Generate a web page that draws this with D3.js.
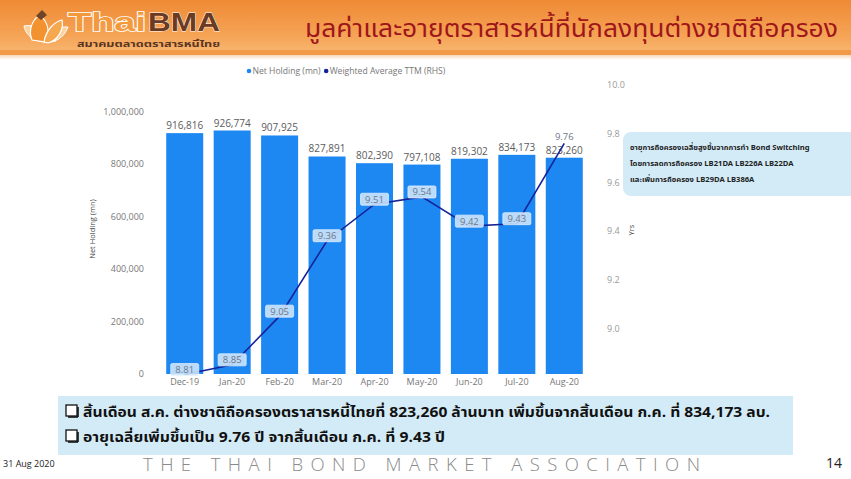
<!DOCTYPE html>
<html><head><meta charset="utf-8">
<script src="https://cdn.jsdelivr.net/npm/d3@7"></script>
<style>
html,body{margin:0;padding:0;background:#fff;overflow:hidden}
svg{display:block}
</style></head>
<body>
<svg id="c" width="851" height="479"></svg>
<script>
const categories = ["Dec-19","Jan-20","Feb-20","Mar-20","Apr-20","May-20","Jun-20","Jul-20","Aug-20"];
const netHolding = [916816, 926774, 907925, 827891, 802390, 797108, 819302, 834173, 823260];
const ttm = [8.81, 8.85, 9.05, 9.36, 9.51, 9.54, 9.42, 9.43, 9.76];
const leftTicks = [0, 200000, 400000, 600000, 800000, 1000000];
const rightTicks = [9.0, 9.2, 9.4, 9.6, 9.8, 10.0];
const legendItems = ["Net Holding (mn)", "Weighted Average TTM (RHS)"];
const titleText = "มูลค่าและอายุตราสารหนี้ที่นักลงทุนต่างชาติถือครอง";
const noteLines = ["อายุการถือครองเฉลี่ยสูงขึ้นจากการทำ Bond Switching",
                   "โดยการลดการถือครอง LB21DA LB226A LB22DA",
                   "และเพิ่มการถือครอง LB29DA LB386A"];
const summaryLines = ["สิ้นเดือน ส.ค. ต่างชาติถือครองตราสารหนี้ไทยที่ 823,260 ล้านบาท เพิ่มขึ้นจากสิ้นเดือน ก.ค. ที่ 834,173 ลบ.",
                      "อายุเฉลี่ยเพิ่มขึ้นเป็น 9.76 ปี จากสิ้นเดือน ก.ค. ที่ 9.43 ปี"];

const svg = d3.select("#c");
const defs = svg.append("defs");
const FONT = "'Segoe UI','Open Sans','Noto Sans',sans-serif";
const THAI = "'Noto Sans Thai','Leelawadee UI','Tahoma','Noto Sans','DejaVu Sans',sans-serif";

// ---------- header ----------
const hg = defs.append("linearGradient").attr("id","hg").attr("x1",0).attr("y1",0).attr("x2",0).attr("y2",1);
hg.append("stop").attr("offset","0%").attr("stop-color","#EF8A35");
hg.append("stop").attr("offset","70%").attr("stop-color","#F5A355");
hg.append("stop").attr("offset","100%").attr("stop-color","#F7B36C");
svg.append("rect").attr("x",0).attr("y",0).attr("width",851).attr("height",50).attr("fill","url(#hg)");
svg.append("rect").attr("x",0).attr("y",50).attr("width",851).attr("height",5).attr("fill","#F29A48");
const sh = defs.append("linearGradient").attr("id","sh").attr("x1",0).attr("y1",0).attr("x2",0).attr("y2",1);
sh.append("stop").attr("offset","0%").attr("stop-color","#f6d8bd");
sh.append("stop").attr("offset","100%").attr("stop-color","#ffffff");
svg.append("rect").attr("x",0).attr("y",55).attr("width",851).attr("height",5).attr("fill","url(#sh)");

// logo lotus
const logo = svg.append("g");
logo.append("path").attr("d","M24,26 C26,38 40,45 56,41 C48,30 36,24 24,26 Z").attr("fill","#FBD2A0").attr("stroke","#fff").attr("stroke-width",1);
logo.append("path").attr("d","M44,41 C54,44 64,38 68,27 C58,26 48,32 44,41 Z").attr("fill","#FBD2A0").attr("stroke","#fff").attr("stroke-width",1);
logo.append("path").attr("d","M32,40 C28,30 32,20 40,15 C48,22 50,32 46,42 Z").attr("fill","#F39330").attr("stroke","#fff").attr("stroke-width",1.2);
logo.append("path").attr("d","M44,42 C46,30 54,22 62,20 C64,30 58,40 48,43 Z").attr("fill","#F6A84F").attr("stroke","#fff").attr("stroke-width",1.2);
logo.append("path").attr("d","M36,16 L42,10 L47,15 L41,20 Z").attr("fill","#6f4326");
logo.append("text").attr("x",68).attr("y",31).attr("font-family","'Liberation Sans',Arial,sans-serif")
  .attr("font-size",26).attr("font-weight","bold").attr("fill","#F39A3C").attr("stroke","#fff").attr("stroke-width",1.6)
  .attr("paint-order","stroke").attr("textLength",78).attr("lengthAdjust","spacingAndGlyphs").text("Thai");
logo.append("text").attr("x",148).attr("y",31).attr("font-family","'Liberation Sans',Arial,sans-serif")
  .attr("font-size",26).attr("font-weight","bold").attr("fill","#6a3b22").attr("stroke","#fff").attr("stroke-width",0.8)
  .attr("paint-order","stroke").attr("textLength",72).attr("lengthAdjust","spacingAndGlyphs").text("BMA");
logo.append("text").attr("x",77).attr("y",47).attr("font-family",THAI).attr("font-size",8).attr("font-weight","bold")
  .attr("fill","#5a3522").attr("textLength",143).attr("lengthAdjust","spacingAndGlyphs").text("สมาคมตลาดตราสารหนี้ไทย");

svg.append("text").attr("x",838).attr("y",37).attr("text-anchor","end")
  .attr("font-family",THAI).attr("font-size",25).attr("fill","#9E161B")
  .attr("textLength",533).attr("lengthAdjust","spacingAndGlyphs").text(titleText);

// ---------- legend ----------
const legColors = ["#1E88F2", "#15239A"];
const leg = svg.append("g").attr("font-family",FONT).attr("font-size",8.6).attr("fill","#777");
let lx = 249;
legendItems.forEach((t,i)=>{
  leg.append("circle").attr("cx",lx).attr("cy",71).attr("r",2.3).attr("fill",legColors[i]);
  const tx = leg.append("text").attr("x",lx+3.5).attr("y",74).text(t);
  lx += tx.node().getComputedTextLength() + 9;
});

// ---------- scales ----------
const x = d3.scaleBand().domain(categories).range([161, 588]).paddingInner(0.22).paddingOuter(0.11);
const yL = d3.scaleLinear().domain([0, 1100000]).range([374, 85]);
const yR = d3.scaleLinear().domain([8.8, 10.0]).range([377, 85]);

// left axis
const axL = svg.append("g").attr("transform","translate(144,0)")
  .call(d3.axisLeft(yL).tickValues(leftTicks).tickSize(0).tickPadding(0).tickFormat(d3.format(",")));
axL.select(".domain").remove();
axL.selectAll("text").attr("font-family",FONT).attr("font-size",9).attr("fill","#777");

// right axis
const axR = svg.append("g").attr("transform","translate(607,0)")
  .call(d3.axisRight(yR).tickValues(rightTicks).tickSize(0).tickPadding(0).tickFormat(d3.format(".1f")));
axR.select(".domain").remove();
axR.selectAll("text").attr("font-family",FONT).attr("font-size",9).attr("fill","#999");

// x axis
const axX = svg.append("g").attr("transform","translate(0,376)")
  .call(d3.axisBottom(x).tickSize(0).tickPadding(3));
axX.select(".domain").remove();
axX.selectAll("text").attr("font-family",FONT).attr("font-size",9).attr("fill","#777");

// axis titles
svg.append("text").attr("transform","translate(95,229) rotate(-90)").attr("text-anchor","middle")
  .attr("font-family",FONT).attr("font-size",7.5).attr("fill","#444").text("Net Holding (mn)");
svg.append("text").attr("transform","translate(634,230) rotate(-90)").attr("text-anchor","middle")
  .attr("font-family",FONT).attr("font-size",7.5).attr("fill","#444").text("Yrs");

// bars
svg.append("g").selectAll("rect").data(netHolding).join("rect")
  .attr("x",(d,i)=>x(categories[i])).attr("width",x.bandwidth())
  .attr("y",d=>yL(d)).attr("height",d=>yL(0)-yL(d)).attr("fill","#1E88F2");

// bar labels
svg.append("g").selectAll("text").data(netHolding).join("text")
  .attr("x",(d,i)=>x(categories[i])+x.bandwidth()/2).attr("y",d=>yL(d)-4)
  .attr("text-anchor","middle").attr("font-family",FONT).attr("font-size",10).attr("fill","#5c5c5c")
  .text(d=>d3.format(",")(d));

// line
const line = d3.line().x((d,i)=>x(categories[i])+x.bandwidth()/2).y(d=>yR(d));
svg.append("path").datum(ttm).attr("d",line).attr("fill","none").attr("stroke","#15239A").attr("stroke-width",1.6);

// line labels
const ll = svg.append("g");
ttm.forEach((v,i)=>{
  const cx = x(categories[i])+x.bandwidth()/2;
  const last = i === ttm.length-1;
  const cy = last ? 136 : yR(v)-5;
  if(!last){
    ll.append("rect").attr("x",cx-14).attr("y",cy-6).attr("width",28).attr("height",12).attr("rx",1.5)
      .attr("fill","rgba(208,230,250,0.88)").attr("stroke","rgba(232,243,255,0.9)").attr("stroke-width",0.8);
  }
  ll.append("text").attr("x",cx).attr("y",cy+3.5).attr("text-anchor","middle")
    .attr("font-family",FONT).attr("font-size",9.5).attr("fill","#6f7888").text(v.toFixed(2));
});

// annotation box
svg.append("rect").attr("x",623).attr("y",132).attr("width",240).attr("height",64).attr("rx",8).attr("fill","#D3EBF7");
noteLines.forEach((t,i)=>{
  svg.append("text").attr("x",630).attr("y",150+i*16).attr("font-family",THAI).attr("font-size",7.6)
    .attr("font-weight","bold").attr("fill","#222").text(t);
});

// summary box
svg.append("rect").attr("x",58).attr("y",396).attr("width",735).attr("height",59).attr("fill","#D3EBF7");
summaryLines.forEach((t,i)=>{
  const yy = 417 + i*25;
  svg.append("rect").attr("x",66).attr("y",yy-12).attr("width",11).attr("height",11)
    .attr("fill","#fff").attr("stroke","#111").attr("stroke-width",1.3);
  svg.append("line").attr("x1",68).attr("x2",78).attr("y1",yy).attr("y2",yy).attr("stroke","#111").attr("stroke-width",1.6);
  svg.append("line").attr("x1",78).attr("x2",78).attr("y1",yy-10).attr("y2",yy).attr("stroke","#111").attr("stroke-width",1.6);
  const tt = svg.append("text").attr("x",83).attr("y",yy).attr("font-family",THAI).attr("font-size",14)
    .attr("font-weight","bold").attr("fill","#111").text(t);
  if(i===0) tt.attr("textLength",687).attr("lengthAdjust","spacingAndGlyphs");
  else tt.attr("textLength",362).attr("lengthAdjust","spacingAndGlyphs");
});

// footer
svg.append("text").attr("x",3).attr("y",467).attr("font-family",FONT).attr("font-size",9).attr("fill","#222").text("31 Aug 2020");
svg.append("text").attr("x",143).attr("y",471).attr("font-family","'Open Sans','Segoe UI',sans-serif").attr("font-size",18.5)
  .attr("font-weight",300).attr("fill","#8a8a8a").attr("textLength",557).attr("lengthAdjust","spacing").text("THE THAI BOND MARKET ASSOCIATION");
svg.append("text").attr("x",842).attr("y",468).attr("text-anchor","end").attr("font-family",FONT).attr("font-size",14).attr("fill","#222").text("14");
</script>
</body></html>
